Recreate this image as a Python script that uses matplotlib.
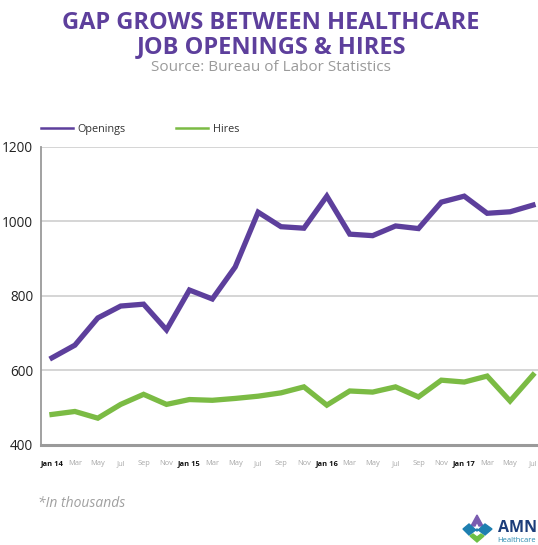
import matplotlib.pyplot as plt
from matplotlib.lines import Line2D
from matplotlib.patches import Polygon
import numpy as np

months = ['Jan 14', 'Mar', 'May', 'Jul', 'Sep', 'Nov',
          'Jan 15', 'Mar', 'May', 'Jul', 'Sep', 'Nov',
          'Jan 16', 'Mar', 'May', 'Jul', 'Sep', 'Nov',
          'Jan 17', 'Mar', 'May', 'Jul']
openings = [634, 668, 741, 773, 778, 709, 816, 792, 878, 1025, 986, 982,
            1068, 966, 962, 988, 981, 1052, 1068, 1022, 1026, 1044]
hires = [482, 490, 472, 509, 536, 509, 522, 520, 525, 531, 540, 556,
         507, 545, 542, 556, 529, 574, 569, 585, 518, 588]

purple = '#5d3f9c'
green = '#7bbb44'

plt.rcParams['font.family'] = ['Open Sans', 'DejaVu Sans']

fig = plt.figure(figsize=(5.38, 5.45), dpi=100)
ax = fig.add_axes([0.0762, 0.1835, 0.9238, 0.5468])

x = np.arange(len(months))
ax.plot(x, openings, color=purple, lw=3.8, solid_joinstyle='miter')
ax.plot(x, hires, color=green, lw=3.8, solid_joinstyle='miter')

ax.set_xlim(-0.48, 21.22)
ax.set_ylim(400, 1200)
ax.set_yticks([400, 600, 800, 1000, 1200])
ax.yaxis.grid(True, color='#d2d2d2', lw=1.3)
ax.set_axisbelow(True)
ax.tick_params(axis='y', length=0, pad=5.5, labelsize=9.8, labelcolor='#222222')
ax.tick_params(axis='x', length=0, pad=11)

ax.set_xticks(x)
ax.set_xticklabels(months)
for lbl in ax.get_xticklabels():
    lbl.set_fontsize(5.4)
    if lbl.get_text().startswith('Jan'):
        lbl.set_fontweight('bold')
        lbl.set_color('#111111')
    else:
        lbl.set_color('#a8a8a8')

for s in ['top', 'right']:
    ax.spines[s].set_visible(False)
ax.spines['left'].set_color('#9a9a9a')
ax.spines['left'].set_linewidth(1.3)
ax.spines['bottom'].set_color('#9a9a9a')
ax.spines['bottom'].set_linewidth(2.2)

handles = [Line2D([], [], color=purple, lw=1.8), Line2D([], [], color=green, lw=1.8)]
ax.legend(handles, ['Openings', 'Hires'], ncol=2, loc='lower left',
          bbox_to_anchor=(0.0, 1.04), frameon=False,
          handlelength=3.0, handletextpad=0.4, columnspacing=4.6,
          prop={'size': 7.8}, labelcolor='#333333',
          borderaxespad=0, borderpad=0)

fig.text(0.504, 1 - 29 / 545, 'GAP GROWS BETWEEN HEALTHCARE', ha='center', va='baseline',
         fontsize=17, fontweight='bold', color=purple)
fig.text(0.504, 1 - 53.5 / 545, 'JOB OPENINGS & HIRES', ha='center', va='baseline',
         fontsize=17, fontweight='bold', color=purple)
fig.text(0.503, 1 - 71 / 545, 'Source: Bureau of Labor Statistics', ha='center',
         va='baseline', fontsize=11, color='#9a9a9a')
fig.text(0.071, 0.077, '*In thousands', ha='left', va='center', fontsize=10,
         style='italic', color='#a0a0a0')

# AMN Healthcare logo (cut off at the right edge)
fig.text(498 / 538, 1 - 532 / 545, 'AMN', ha='left', va='baseline', fontsize=11.5,
         fontweight='bold', color='#1c3d7a')
fig.text(497 / 538, 1 - 542 / 545, 'Healthcare', ha='left', va='baseline', fontsize=5.5,
         color='#2a8ab0')
logo = [
    ([(471, 526), (477, 515), (483, 526), (479, 526), (477, 522), (475, 526)], '#7a5cb0'),
    ([(463, 529), (469, 524), (477, 531), (485, 524), (492, 529), (485, 535), (477, 529), (469, 535)], '#1e7fb0'),
    ([(470, 536), (477, 542), (484, 536), (481, 534), (477, 537), (473, 534)], '#6cbf45'),
]
for pts, col in logo:
    fig.add_artist(Polygon([(px / 538, 1 - py / 545) for px, py in pts],
                           closed=True, color=col, transform=fig.transFigure))

fig.savefig('out.png', dpi=100)
